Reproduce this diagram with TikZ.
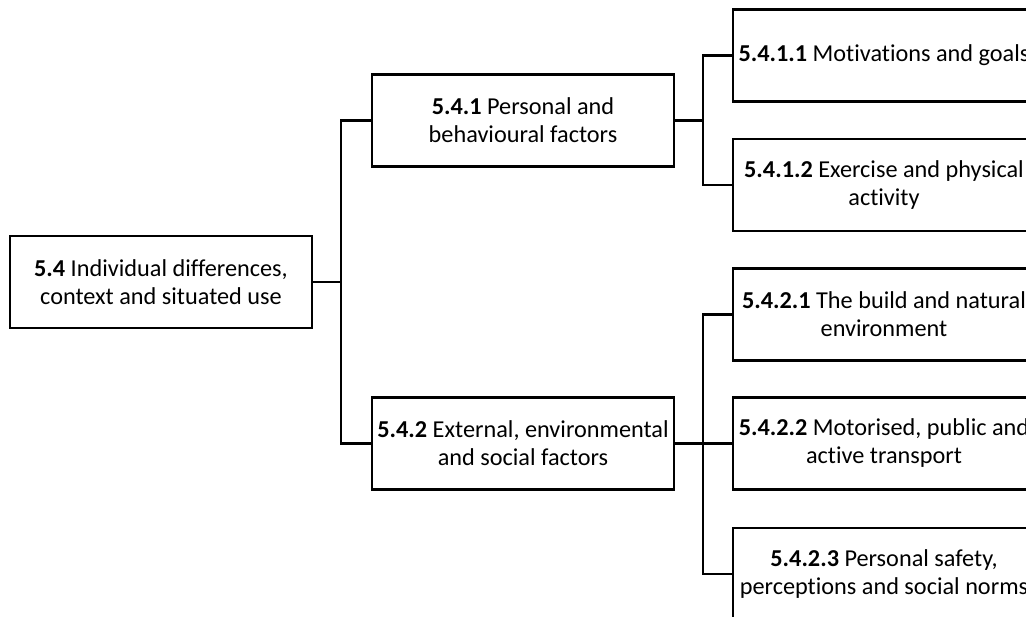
\documentclass[tikz,border=0pt]{standalone}
\usepackage{fontspec}
\setmainfont{Carlito}[Ligatures=NoCommon]
\begin{document}
\begin{tikzpicture}[x=0.75pt,y=-0.75pt,
  box/.style={draw=black,line width=2.2pt,minimum width=302*0.75pt,minimum height=92*0.75pt,
    inner sep=0pt,align=center,font=\fontsize{18.2}{21}\selectfont},
  conn/.style={draw=black,line width=2.2pt}]
\useasboundingbox (0,0) rectangle (1026,617);
\clip (0,0) rectangle (1026,617);
\node[box] (root) at (161,282) {\textbf{5.4} Individual differences,\\context and situated use};
\node[box] (a) at (523,120.5) {\textbf{5.4.1} Personal and\\behavioural factors};
\node[box] (b) at (523,443.5) {\textbf{5.4.2} External, environmental\\and social factors};
\node[box] (a1) at (884,55.5) {\textbf{5.4.1.1} Motivations and goals};
\node[box] (a2) at (884,185) {\textbf{5.4.1.2} Exercise and physical\\activity};
\node[box] (b1) at (884,314.5) {\textbf{5.4.2.1} The build and natural\\environment};
\node[box] (b2) at (884,443.5) {\textbf{5.4.2.2} Motorised, public and\\active transport};
\node[box] (b3) at (884,574) {\textbf{5.4.2.3} Personal safety,\\perceptions and social norms};
\coordinate (r1) at (341,282);
\coordinate (s1) at (703,120.5);
\coordinate (s2) at (703,443.5);
\draw[conn] (root.east) -- (r1) |- (a.west);
\draw[conn] (r1) |- (b.west);
\draw[conn] (a.east) -- (s1) |- (a1.west);
\draw[conn] (s1) |- (a2.west);
\draw[conn] (b.east) -- (s2) |- (b1.west);
\draw[conn] (s2) |- (b3.west);
\draw[conn] (s2) -- (b2.west);
\end{tikzpicture}
\end{document}
